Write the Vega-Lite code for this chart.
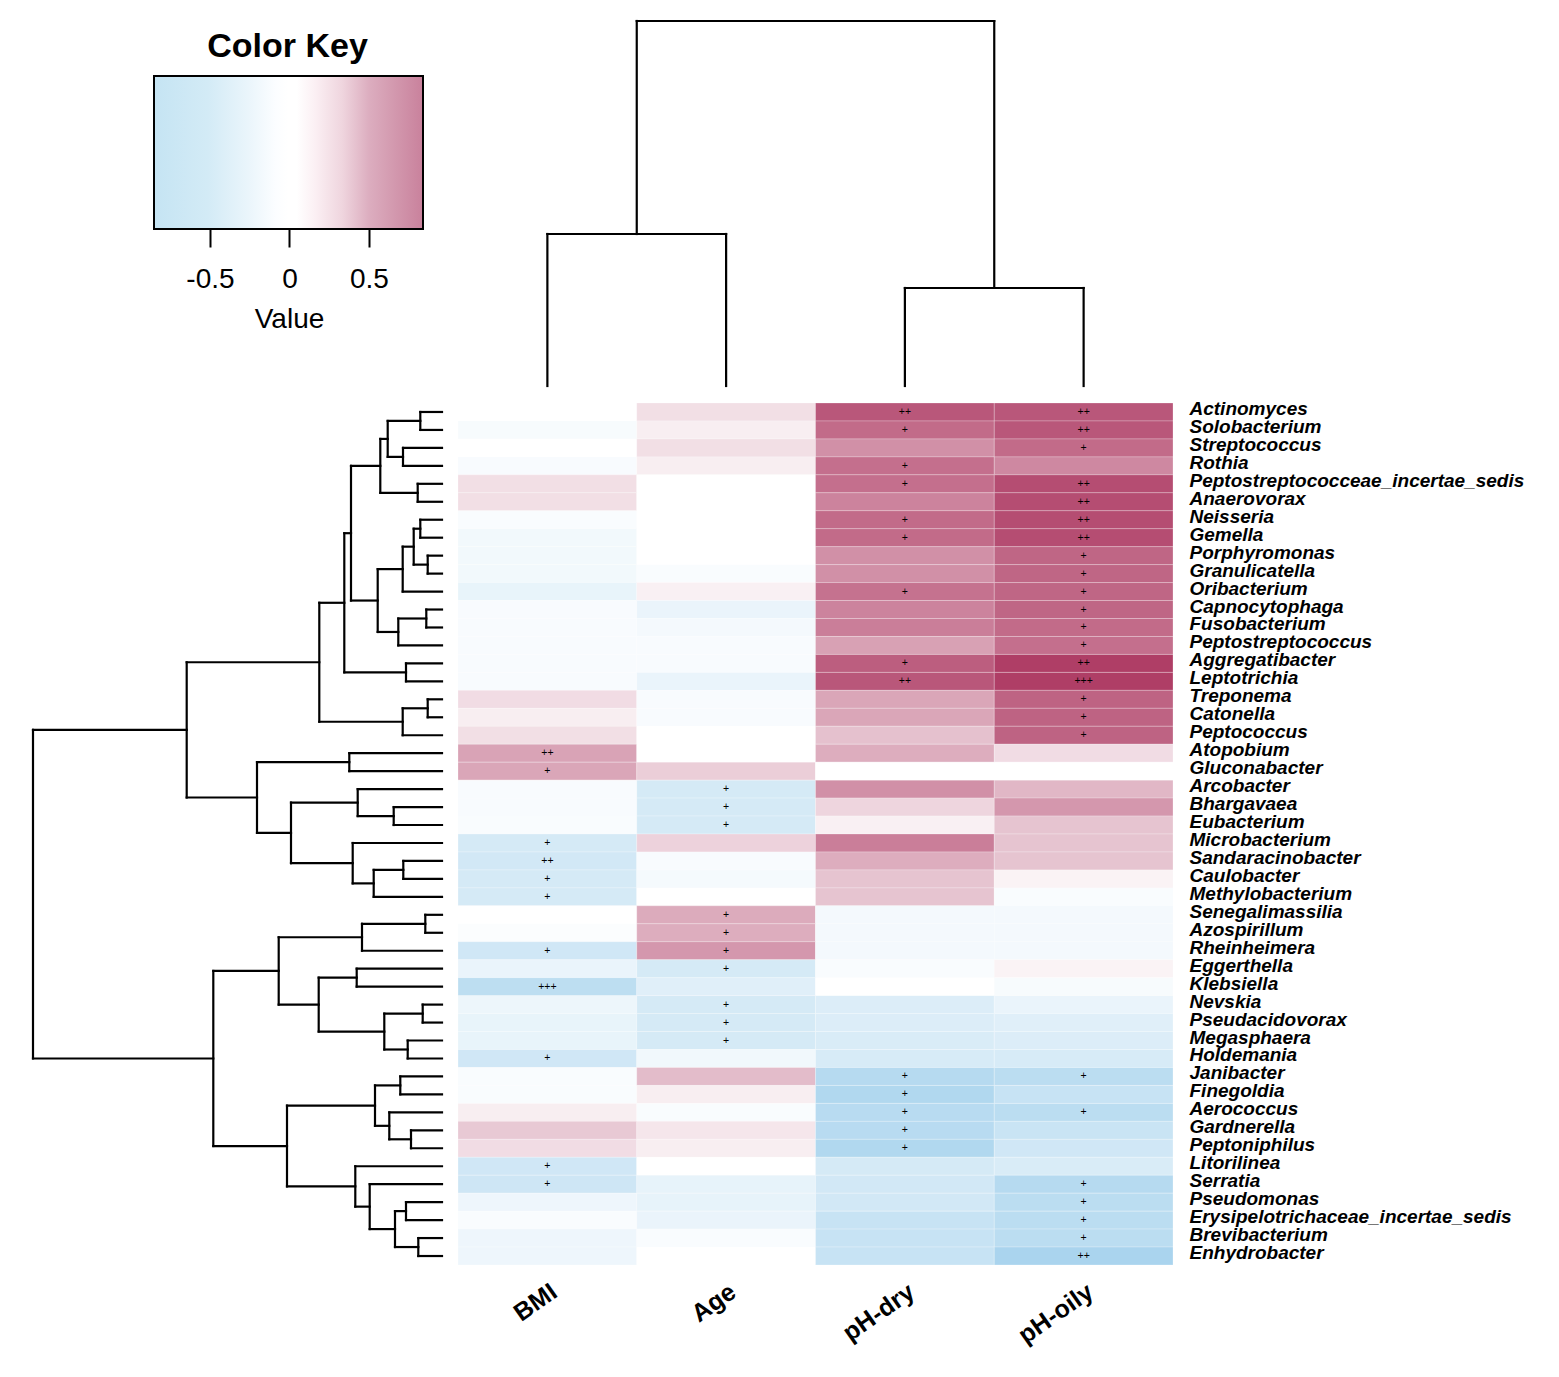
{
  "$schema": "https://vega.github.io/schema/vega-lite/v6.json",
  "background": "white",
  "padding": {"left": 31, "top": 19, "right": 5, "bottom": 5},
  "config": {"view": {"stroke": null}, "font": "Liberation Sans"},
  "columns": 2,
  "align": "each",
  "spacing": {"row": 11, "column": 13},
  "datasets": {
    "key": [{"lo": -0.852, "hi": 0.84, "b": 0, "t": 1}],
    "coltree": [
      {"x": 1.5, "h": 15.2, "xa": 1, "ha": 0, "xb": 2, "hb": 0},
      {"x": 3.5, "h": 9.8, "xa": 3, "ha": 0, "xb": 4, "hb": 0},
      {"x": 2.5, "h": 36.5, "xa": 1.5, "ha": 15.2, "xb": 3.5, "hb": 9.8}
    ],
    "rowtree": [
      {"h": 2.17, "ya": 1, "ha": 0, "yb": 2, "hb": 0},
      {"h": 3.9, "ya": 3, "ha": 0, "yb": 4, "hb": 0},
      {"h": 5.43, "ya": 1.5, "ha": 2.17, "yb": 3.5, "hb": 3.9},
      {"h": 2.43, "ya": 5, "ha": 0, "yb": 6, "hb": 0},
      {"h": 6.17, "ya": 2.5, "ha": 5.43, "yb": 5.5, "hb": 2.43},
      {"h": 2.17, "ya": 7, "ha": 0, "yb": 8, "hb": 0},
      {"h": 1.43, "ya": 9, "ha": 0, "yb": 10, "hb": 0},
      {"h": 2.83, "ya": 7.5, "ha": 2.17, "yb": 9.5, "hb": 1.43},
      {"h": 3.93, "ya": 8.5, "ha": 2.83, "yb": 11, "hb": 0},
      {"h": 1.57, "ya": 12, "ha": 0, "yb": 13, "hb": 0},
      {"h": 4.37, "ya": 12.5, "ha": 1.57, "yb": 14, "hb": 0},
      {"h": 6.43, "ya": 9.75, "ha": 3.93, "yb": 13.25, "hb": 4.37},
      {"h": 9.1, "ya": 4, "ha": 6.17, "yb": 11.5, "hb": 6.43},
      {"h": 3.6, "ya": 15, "ha": 0, "yb": 16, "hb": 0},
      {"h": 9.77, "ya": 7.75, "ha": 9.1, "yb": 15.5, "hb": 3.6},
      {"h": 1.43, "ya": 17, "ha": 0, "yb": 18, "hb": 0},
      {"h": 3.93, "ya": 17.5, "ha": 1.43, "yb": 19, "hb": 0},
      {"h": 12.27, "ya": 11.625, "ha": 9.77, "yb": 18.25, "hb": 3.93},
      {"h": 9.27, "ya": 20, "ha": 0, "yb": 21, "hb": 0},
      {"h": 4.83, "ya": 23, "ha": 0, "yb": 24, "hb": 0},
      {"h": 8.43, "ya": 22, "ha": 0, "yb": 23.5, "hb": 4.83},
      {"h": 3.87, "ya": 26, "ha": 0, "yb": 27, "hb": 0},
      {"h": 6.83, "ya": 26.5, "ha": 3.87, "yb": 28, "hb": 0},
      {"h": 8.93, "ya": 25, "ha": 0, "yb": 27.25, "hb": 6.83},
      {"h": 15.1, "ya": 22.75, "ha": 8.43, "yb": 26.125, "hb": 8.93},
      {"h": 18.5, "ya": 20.5, "ha": 9.27, "yb": 24.4375, "hb": 15.1},
      {"h": 25.53, "ya": 14.9375, "ha": 12.27, "yb": 22.46875, "hb": 18.5},
      {"h": 1.67, "ya": 29, "ha": 0, "yb": 30, "hb": 0},
      {"h": 8.0, "ya": 29.5, "ha": 1.67, "yb": 31, "hb": 0},
      {"h": 8.53, "ya": 32, "ha": 0, "yb": 33, "hb": 0},
      {"h": 1.93, "ya": 34, "ha": 0, "yb": 35, "hb": 0},
      {"h": 3.43, "ya": 36, "ha": 0, "yb": 37, "hb": 0},
      {"h": 5.77, "ya": 34.5, "ha": 1.93, "yb": 36.5, "hb": 3.43},
      {"h": 12.33, "ya": 32.5, "ha": 8.53, "yb": 35.5, "hb": 5.77},
      {"h": 16.33, "ya": 30.25, "ha": 8.0, "yb": 34, "hb": 12.33},
      {"h": 4.17, "ya": 38, "ha": 0, "yb": 39, "hb": 0},
      {"h": 3.1, "ya": 41, "ha": 0, "yb": 42, "hb": 0},
      {"h": 5.27, "ya": 40, "ha": 0, "yb": 41.5, "hb": 3.1},
      {"h": 6.7, "ya": 38.5, "ha": 4.17, "yb": 40.75, "hb": 5.27},
      {"h": 3.6, "ya": 45, "ha": 0, "yb": 46, "hb": 0},
      {"h": 2.37, "ya": 47, "ha": 0, "yb": 48, "hb": 0},
      {"h": 4.7, "ya": 45.5, "ha": 3.6, "yb": 47.5, "hb": 2.37},
      {"h": 7.23, "ya": 44, "ha": 0, "yb": 46.5, "hb": 4.7},
      {"h": 8.67, "ya": 43, "ha": 0, "yb": 45.25, "hb": 7.23},
      {"h": 15.5, "ya": 39.625, "ha": 6.7, "yb": 44.125, "hb": 8.67},
      {"h": 22.87, "ya": 32.125, "ha": 16.33, "yb": 41.875, "hb": 15.5},
      {"h": 40.9, "ya": 18.703, "ha": 25.53, "yb": 37, "hb": 22.87}
    ],
    "heat": [
      {"t": "Actinomyces", "BMI": 0, "Age": 0.13, "pH-dry": 0.68, "pH-oily": 0.68},
      {"t": "Solobacterium", "BMI": -0.06, "Age": 0.07, "pH-dry": 0.6, "pH-oily": 0.68},
      {"t": "Streptococcus", "BMI": 0, "Age": 0.13, "pH-dry": 0.45, "pH-oily": 0.6},
      {"t": "Rothia", "BMI": -0.05, "Age": 0.07, "pH-dry": 0.58, "pH-oily": 0.48},
      {"t": "Peptostreptococceae_incertae_sedis", "BMI": 0.13, "Age": 0, "pH-dry": 0.58, "pH-oily": 0.72},
      {"t": "Anaerovorax", "BMI": 0.13, "Age": 0, "pH-dry": 0.5, "pH-oily": 0.72},
      {"t": "Neisseria", "BMI": -0.04, "Age": 0, "pH-dry": 0.6, "pH-oily": 0.72},
      {"t": "Gemella", "BMI": -0.09, "Age": 0, "pH-dry": 0.6, "pH-oily": 0.72},
      {"t": "Porphyromonas", "BMI": -0.09, "Age": 0, "pH-dry": 0.45, "pH-oily": 0.62},
      {"t": "Granulicatella", "BMI": -0.09, "Age": -0.04, "pH-dry": 0.45, "pH-oily": 0.62},
      {"t": "Oribacterium", "BMI": -0.16, "Age": 0.06, "pH-dry": 0.57, "pH-oily": 0.62},
      {"t": "Capnocytophaga", "BMI": -0.05, "Age": -0.15, "pH-dry": 0.5, "pH-oily": 0.62},
      {"t": "Fusobacterium", "BMI": -0.05, "Age": -0.08, "pH-dry": 0.52, "pH-oily": 0.6},
      {"t": "Peptostreptococcus", "BMI": -0.05, "Age": -0.05, "pH-dry": 0.38, "pH-oily": 0.58},
      {"t": "Aggregatibacter", "BMI": -0.05, "Age": -0.05, "pH-dry": 0.65, "pH-oily": 0.78},
      {"t": "Leptotrichia", "BMI": -0.05, "Age": -0.15, "pH-dry": 0.68, "pH-oily": 0.78},
      {"t": "Treponema", "BMI": 0.14, "Age": -0.05, "pH-dry": 0.36, "pH-oily": 0.63},
      {"t": "Catonella", "BMI": 0.07, "Age": -0.05, "pH-dry": 0.36, "pH-oily": 0.63},
      {"t": "Peptococcus", "BMI": 0.13, "Age": 0, "pH-dry": 0.25, "pH-oily": 0.63},
      {"t": "Atopobium", "BMI": 0.37, "Age": 0, "pH-dry": 0.33, "pH-oily": 0.14},
      {"t": "Gluconabacter", "BMI": 0.36, "Age": 0.2, "pH-dry": 0, "pH-oily": 0},
      {"t": "Arcobacter", "BMI": -0.05, "Age": -0.3, "pH-dry": 0.45, "pH-oily": 0.29},
      {"t": "Bhargavaea", "BMI": -0.05, "Age": -0.3, "pH-dry": 0.17, "pH-oily": 0.42},
      {"t": "Eubacterium", "BMI": -0.04, "Age": -0.3, "pH-dry": 0.06, "pH-oily": 0.24},
      {"t": "Microbacterium", "BMI": -0.3, "Age": 0.18, "pH-dry": 0.52, "pH-oily": 0.24},
      {"t": "Sandaracinobacter", "BMI": -0.32, "Age": -0.05, "pH-dry": 0.33, "pH-oily": 0.24},
      {"t": "Caulobacter", "BMI": -0.3, "Age": -0.07, "pH-dry": 0.24, "pH-oily": 0.05},
      {"t": "Methylobacterium", "BMI": -0.3, "Age": 0, "pH-dry": 0.24, "pH-oily": -0.04},
      {"t": "Senegalimassilia", "BMI": 0, "Age": 0.34, "pH-dry": -0.08, "pH-oily": -0.08},
      {"t": "Azospirillum", "BMI": -0.03, "Age": 0.33, "pH-dry": -0.08, "pH-oily": -0.08},
      {"t": "Rheinheimera", "BMI": -0.33, "Age": 0.42, "pH-dry": -0.08, "pH-oily": -0.08},
      {"t": "Eggerthella", "BMI": -0.15, "Age": -0.3, "pH-dry": -0.04, "pH-oily": 0.05},
      {"t": "Klebsiella", "BMI": -0.47, "Age": -0.22, "pH-dry": 0, "pH-oily": -0.06},
      {"t": "Nevskia", "BMI": -0.13, "Age": -0.3, "pH-dry": -0.25, "pH-oily": -0.15},
      {"t": "Pseudacidovorax", "BMI": -0.16, "Age": -0.3, "pH-dry": -0.25, "pH-oily": -0.22},
      {"t": "Megasphaera", "BMI": -0.16, "Age": -0.3, "pH-dry": -0.27, "pH-oily": -0.25},
      {"t": "Holdemania", "BMI": -0.33, "Age": -0.1, "pH-dry": -0.28, "pH-oily": -0.28},
      {"t": "Janibacter", "BMI": -0.04, "Age": 0.27, "pH-dry": -0.52, "pH-oily": -0.48},
      {"t": "Finegoldia", "BMI": -0.04, "Age": 0.07, "pH-dry": -0.55, "pH-oily": -0.4},
      {"t": "Aerococcus", "BMI": 0.07, "Age": -0.04, "pH-dry": -0.5, "pH-oily": -0.48},
      {"t": "Gardnerella", "BMI": 0.22, "Age": 0.1, "pH-dry": -0.5, "pH-oily": -0.38},
      {"t": "Peptoniphilus", "BMI": 0.14, "Age": 0.07, "pH-dry": -0.55, "pH-oily": -0.33},
      {"t": "Litorilinea", "BMI": -0.33, "Age": 0, "pH-dry": -0.3, "pH-oily": -0.27},
      {"t": "Serratia", "BMI": -0.35, "Age": -0.17, "pH-dry": -0.32, "pH-oily": -0.52},
      {"t": "Pseudomonas", "BMI": -0.12, "Age": -0.17, "pH-dry": -0.32, "pH-oily": -0.48},
      {"t": "Erysipelotrichaceae_incertae_sedis", "BMI": -0.04, "Age": -0.15, "pH-dry": -0.4, "pH-oily": -0.48},
      {"t": "Brevibacterium", "BMI": -0.12, "Age": -0.04, "pH-dry": -0.4, "pH-oily": -0.48},
      {"t": "Enhydrobacter", "BMI": -0.12, "Age": 0, "pH-dry": -0.4, "pH-oily": -0.6}
    ],
    "sig": [
      {"t": "Actinomyces", "v": "pH-dry", "s": "++"},
      {"t": "Actinomyces", "v": "pH-oily", "s": "++"},
      {"t": "Solobacterium", "v": "pH-dry", "s": "+"},
      {"t": "Solobacterium", "v": "pH-oily", "s": "++"},
      {"t": "Streptococcus", "v": "pH-oily", "s": "+"},
      {"t": "Rothia", "v": "pH-dry", "s": "+"},
      {"t": "Peptostreptococceae_incertae_sedis", "v": "pH-dry", "s": "+"},
      {"t": "Peptostreptococceae_incertae_sedis", "v": "pH-oily", "s": "++"},
      {"t": "Anaerovorax", "v": "pH-oily", "s": "++"},
      {"t": "Neisseria", "v": "pH-dry", "s": "+"},
      {"t": "Neisseria", "v": "pH-oily", "s": "++"},
      {"t": "Gemella", "v": "pH-dry", "s": "+"},
      {"t": "Gemella", "v": "pH-oily", "s": "++"},
      {"t": "Porphyromonas", "v": "pH-oily", "s": "+"},
      {"t": "Granulicatella", "v": "pH-oily", "s": "+"},
      {"t": "Oribacterium", "v": "pH-dry", "s": "+"},
      {"t": "Oribacterium", "v": "pH-oily", "s": "+"},
      {"t": "Capnocytophaga", "v": "pH-oily", "s": "+"},
      {"t": "Fusobacterium", "v": "pH-oily", "s": "+"},
      {"t": "Peptostreptococcus", "v": "pH-oily", "s": "+"},
      {"t": "Aggregatibacter", "v": "pH-dry", "s": "+"},
      {"t": "Aggregatibacter", "v": "pH-oily", "s": "++"},
      {"t": "Leptotrichia", "v": "pH-dry", "s": "++"},
      {"t": "Leptotrichia", "v": "pH-oily", "s": "+++"},
      {"t": "Treponema", "v": "pH-oily", "s": "+"},
      {"t": "Catonella", "v": "pH-oily", "s": "+"},
      {"t": "Peptococcus", "v": "pH-oily", "s": "+"},
      {"t": "Atopobium", "v": "BMI", "s": "++"},
      {"t": "Gluconabacter", "v": "BMI", "s": "+"},
      {"t": "Arcobacter", "v": "Age", "s": "+"},
      {"t": "Bhargavaea", "v": "Age", "s": "+"},
      {"t": "Eubacterium", "v": "Age", "s": "+"},
      {"t": "Microbacterium", "v": "BMI", "s": "+"},
      {"t": "Sandaracinobacter", "v": "BMI", "s": "++"},
      {"t": "Caulobacter", "v": "BMI", "s": "+"},
      {"t": "Methylobacterium", "v": "BMI", "s": "+"},
      {"t": "Senegalimassilia", "v": "Age", "s": "+"},
      {"t": "Azospirillum", "v": "Age", "s": "+"},
      {"t": "Rheinheimera", "v": "BMI", "s": "+"},
      {"t": "Rheinheimera", "v": "Age", "s": "+"},
      {"t": "Eggerthella", "v": "Age", "s": "+"},
      {"t": "Klebsiella", "v": "BMI", "s": "+++"},
      {"t": "Nevskia", "v": "Age", "s": "+"},
      {"t": "Pseudacidovorax", "v": "Age", "s": "+"},
      {"t": "Megasphaera", "v": "Age", "s": "+"},
      {"t": "Holdemania", "v": "BMI", "s": "+"},
      {"t": "Janibacter", "v": "pH-dry", "s": "+"},
      {"t": "Janibacter", "v": "pH-oily", "s": "+"},
      {"t": "Finegoldia", "v": "pH-dry", "s": "+"},
      {"t": "Aerococcus", "v": "pH-dry", "s": "+"},
      {"t": "Aerococcus", "v": "pH-oily", "s": "+"},
      {"t": "Gardnerella", "v": "pH-dry", "s": "+"},
      {"t": "Peptoniphilus", "v": "pH-dry", "s": "+"},
      {"t": "Litorilinea", "v": "BMI", "s": "+"},
      {"t": "Serratia", "v": "BMI", "s": "+"},
      {"t": "Serratia", "v": "pH-oily", "s": "+"},
      {"t": "Pseudomonas", "v": "pH-oily", "s": "+"},
      {"t": "Erysipelotrichaceae_incertae_sedis", "v": "pH-oily", "s": "+"},
      {"t": "Brevibacterium", "v": "pH-oily", "s": "+"},
      {"t": "Enhydrobacter", "v": "pH-oily", "s": "++"}
    ]
  },
  "concat": [
    {
      "width": 409,
      "height": 153,
      "title": {"text": [" ", "Color Key"], "fontSize": 34, "fontWeight": "bold", "color": "black", "lineHeight": 10, "offset": 11, "anchor": "middle", "dx": 50},
      "data": {"name": "key"},
      "mark": {"type": "rect", "stroke": "black", "strokeWidth": 2,
        "fill": {"gradient": "linear", "x1": 0, "y1": 0, "x2": 1, "y2": 0,
          "stops": [
            {"offset": 0, "color": "#c5e4f3"},
            {"offset": 0.2, "color": "#d3ebf6"},
            {"offset": 0.35, "color": "#eaf5fb"},
            {"offset": 0.45, "color": "#fbfdff"},
            {"offset": 0.5, "color": "#ffffff"},
            {"offset": 0.53, "color": "#ffffff"},
            {"offset": 0.6, "color": "#fbeff3"},
            {"offset": 0.7, "color": "#efd5de"},
            {"offset": 0.8, "color": "#dcadbf"},
            {"offset": 0.9, "color": "#d297ad"},
            {"offset": 1, "color": "#c9819c"}
          ]}},
      "encoding": {
        "x": {"field": "lo", "type": "quantitative", "scale": {"domain": [-1.6131, 0.9595], "nice": false, "zero": false},
          "axis": {"values": [-0.5, 0, 0.5], "domain": false, "grid": false, "ticks": true, "tickSize": 18, "tickWidth": 2, "tickColor": "black", "labelFontSize": 28, "labelColor": "black", "labelPadding": 18, "labelFlush": false, "labelExpr": "replace(format(datum.value, '.1~f'), '−', '-')", "title": "Value", "titleX": 256, "titleFontSize": 28, "titleFontWeight": "normal", "titleColor": "black", "titlePadding": 12}},
        "x2": {"field": "hi"},
        "y": {"field": "b", "type": "quantitative", "scale": {"domain": [0, 1], "nice": false}, "axis": null},
        "y2": {"field": "t"}
      }
    },
    {
      "width": 715,
      "height": 310,
      "data": {"name": "coltree"},
      "layer": [
        {
          "mark": {"type": "rule", "color": "black", "strokeWidth": 2.2, "strokeCap": "square"},
          "encoding": {
            "x": {"field": "xa", "type": "quantitative", "scale": {"domain": [0.5, 4.5], "nice": false, "zero": false}, "axis": null},
            "x2": {"field": "xb"},
            "y": {"field": "h", "type": "quantitative", "scale": {"domain": [0, 31], "nice": false, "zero": false}, "axis": null}
          }
        },
        {
          "mark": {"type": "rule", "color": "black", "strokeWidth": 2.2, "strokeCap": "square"},
          "encoding": {
            "x": {"field": "xa", "type": "quantitative"},
            "y": {"field": "h", "type": "quantitative"},
            "y2": {"field": "ha"}
          }
        },
        {
          "mark": {"type": "rule", "color": "black", "strokeWidth": 2.2, "strokeCap": "square"},
          "encoding": {
            "x": {"field": "xb", "type": "quantitative"},
            "y": {"field": "h", "type": "quantitative"},
            "y2": {"field": "hb"}
          }
        }
      ]
    },
    {
      "width": 409,
      "height": 862,
      "data": {"name": "rowtree"},
      "layer": [
        {
          "mark": {"type": "rule", "color": "black", "strokeWidth": 2.2, "strokeCap": "square"},
          "encoding": {
            "x": {"field": "h", "type": "quantitative", "scale": {"domain": [0, 40.9], "reverse": true, "nice": false, "zero": false}, "axis": null},
            "y": {"field": "ya", "type": "quantitative", "scale": {"domain": [0.5, 48.5], "reverse": true, "nice": false, "zero": false}, "axis": null},
            "y2": {"field": "yb"}
          }
        },
        {
          "mark": {"type": "rule", "color": "black", "strokeWidth": 2.2, "strokeCap": "square"},
          "encoding": {
            "x": {"field": "h", "type": "quantitative"},
            "x2": {"field": "ha"},
            "y": {"field": "ya", "type": "quantitative"}
          }
        },
        {
          "mark": {"type": "rule", "color": "black", "strokeWidth": 2.2, "strokeCap": "square"},
          "encoding": {
            "x": {"field": "h", "type": "quantitative"},
            "x2": {"field": "hb"},
            "y": {"field": "yb", "type": "quantitative"}
          }
        }
      ]
    },
    {
      "width": 715,
      "height": 862,
      "layer": [
        {
          "data": {"name": "heat"},
          "transform": [{"fold": ["BMI", "Age", "pH-dry", "pH-oily"], "as": ["v", "r"]}],
          "mark": {"type": "rect", "stroke": "white", "strokeWidth": 0.7, "strokeOpacity": 0.35},
          "encoding": {
            "x": {"field": "v", "type": "nominal", "sort": ["BMI", "Age", "pH-dry", "pH-oily"], "scale": {"paddingInner": 0, "paddingOuter": 0},
              "axis": {"orient": "bottom", "title": null, "labelAngle": -35, "labelFontSize": 25, "labelFontWeight": "bold", "labelColor": "black", "labelPadding": 14, "ticks": false, "domain": false}},
            "y": {"field": "t", "type": "nominal",
              "sort": ["Actinomyces", "Solobacterium", "Streptococcus", "Rothia", "Peptostreptococceae_incertae_sedis", "Anaerovorax", "Neisseria", "Gemella", "Porphyromonas", "Granulicatella", "Oribacterium", "Capnocytophaga", "Fusobacterium", "Peptostreptococcus", "Aggregatibacter", "Leptotrichia", "Treponema", "Catonella", "Peptococcus", "Atopobium", "Gluconabacter", "Arcobacter", "Bhargavaea", "Eubacterium", "Microbacterium", "Sandaracinobacter", "Caulobacter", "Methylobacterium", "Senegalimassilia", "Azospirillum", "Rheinheimera", "Eggerthella", "Klebsiella", "Nevskia", "Pseudacidovorax", "Megasphaera", "Holdemania", "Janibacter", "Finegoldia", "Aerococcus", "Gardnerella", "Peptoniphilus", "Litorilinea", "Serratia", "Pseudomonas", "Erysipelotrichaceae_incertae_sedis", "Brevibacterium", "Enhydrobacter"],
              "scale": {"paddingInner": 0, "paddingOuter": 0},
              "axis": {"orient": "right", "title": null, "labelFontSize": 19, "labelFontWeight": "bold", "labelFontStyle": "italic", "labelColor": "black", "labelPadding": 16, "labelOffset": -3, "ticks": false, "domain": false, "labelLimit": 0}},
            "color": {"field": "r", "type": "quantitative", "scale": {"domain": [-0.8, 0, 0.8], "range": ["#8ec6e8", "#ffffff", "#ad3962"], "interpolate": "rgb", "clamp": true}, "legend": null}
          }
        },
        {
          "data": {"name": "sig"},
          "mark": {"type": "text", "fontSize": 10.5, "color": "black"},
          "encoding": {
            "x": {"field": "v", "type": "nominal", "sort": ["BMI", "Age", "pH-dry", "pH-oily"]},
            "y": {"field": "t", "type": "nominal",
              "sort": ["Actinomyces", "Solobacterium", "Streptococcus", "Rothia", "Peptostreptococceae_incertae_sedis", "Anaerovorax", "Neisseria", "Gemella", "Porphyromonas", "Granulicatella", "Oribacterium", "Capnocytophaga", "Fusobacterium", "Peptostreptococcus", "Aggregatibacter", "Leptotrichia", "Treponema", "Catonella", "Peptococcus", "Atopobium", "Gluconabacter", "Arcobacter", "Bhargavaea", "Eubacterium", "Microbacterium", "Sandaracinobacter", "Caulobacter", "Methylobacterium", "Senegalimassilia", "Azospirillum", "Rheinheimera", "Eggerthella", "Klebsiella", "Nevskia", "Pseudacidovorax", "Megasphaera", "Holdemania", "Janibacter", "Finegoldia", "Aerococcus", "Gardnerella", "Peptoniphilus", "Litorilinea", "Serratia", "Pseudomonas", "Erysipelotrichaceae_incertae_sedis", "Brevibacterium", "Enhydrobacter"]},
            "text": {"field": "s"}
          }
        }
      ]
    }
  ]
}
